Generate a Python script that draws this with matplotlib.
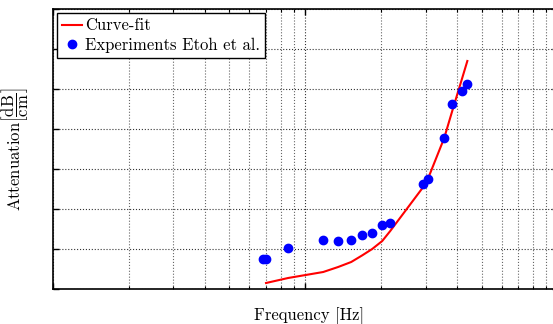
import matplotlib
matplotlib.use('Agg')
import matplotlib.pyplot as plt
from matplotlib.ticker import LogLocator, MultipleLocator, NullFormatter

plt.rcParams['font.family'] = 'serif'
plt.rcParams['font.serif'] = ['cmr10']
plt.rcParams['mathtext.fontset'] = 'cm'
plt.rcParams['axes.unicode_minus'] = False
plt.rcParams['font.size'] = 12

# experiment (Etoh et al.) - frequency [Hz] and attenuation
exp_freq = [6.82e5, 7.0e5, 8.56e5, 1.179e6, 1.351e6, 1.522e6, 1.682e6, 1.843e6,
            2.02e6, 2.173e6, 2.936e6, 3.074e6, 3.555e6, 3.825e6, 4.19e6, 4.39e6]
exp_att = [7.5, 7.5, 10.25, 12.25, 12.1, 12.25, 13.6, 14.0,
           16.1, 16.5, 26.25, 27.6, 37.75, 46.25, 49.5, 51.25]

# curve fit evaluated at the same frequencies
fit_freq = [7.0e5, 8.56e5, 1.179e6, 1.351e6, 1.522e6, 1.682e6, 1.843e6,
            2.02e6, 2.173e6, 2.936e6, 3.074e6, 3.555e6, 3.825e6, 4.19e6, 4.39e6]
fit_att = [1.5, 2.75, 4.25, 5.5, 6.75, 8.4, 10.0,
           12.0, 14.5, 25.5, 27.75, 37.75, 44.5, 52.75, 57.0]

fig = plt.figure(figsize=(5.53, 3.24), dpi=100)
ax = fig.add_axes([52.7 / 553, 35 / 324, (557.6 - 52.7) / 553, 280 / 324])

ax.plot(fit_freq, fit_att, color='#ff0000', lw=1.5, label='Curve-fit')
ax.plot(exp_freq, exp_att, 'o', color='#0000ff', ms=6, label='Experiments Etoh et al.')

ax.set_xscale('log')
ax.set_xlim(1e5, 1e7)
ax.set_ylim(0, 70)
ax.yaxis.set_major_locator(MultipleLocator(10))
ax.xaxis.set_minor_locator(LogLocator(base=10, subs=range(2, 10)))
ax.xaxis.set_minor_formatter(NullFormatter())

ax.grid(True, which='major', ls=':', color='#333333', lw=0.8)
ax.grid(True, which='minor', axis='x', ls=':', color='#666666', lw=0.8)
ax.tick_params(which='both', direction='in', top=True, right=True,
               labelbottom=False, labelleft=False)
ax.tick_params(which='major', length=4, width=1)
ax.tick_params(which='minor', length=2, width=0.8)
for s in ax.spines.values():
    s.set_linewidth(1.2)

ax.set_xlabel('Frequency [Hz]')
ax.set_ylabel(r'Attenuation$\left[\dfrac{\mathrm{dB}}{\mathrm{cm}}\right]$')
ax.xaxis.set_label_coords((309 - 52.7) / (557.6 - 52.7), -0.065)
ax.yaxis.set_label_coords(-0.045, 0.5)

leg = ax.legend(loc='upper left', fancybox=False, edgecolor='black', framealpha=1,
                fontsize=12, handlelength=1.2, handletextpad=0.2, borderpad=0.3,
                borderaxespad=0.25, labelspacing=0.25)
leg.get_frame().set_linewidth(1.0)

fig.savefig('out.png', dpi=100)
